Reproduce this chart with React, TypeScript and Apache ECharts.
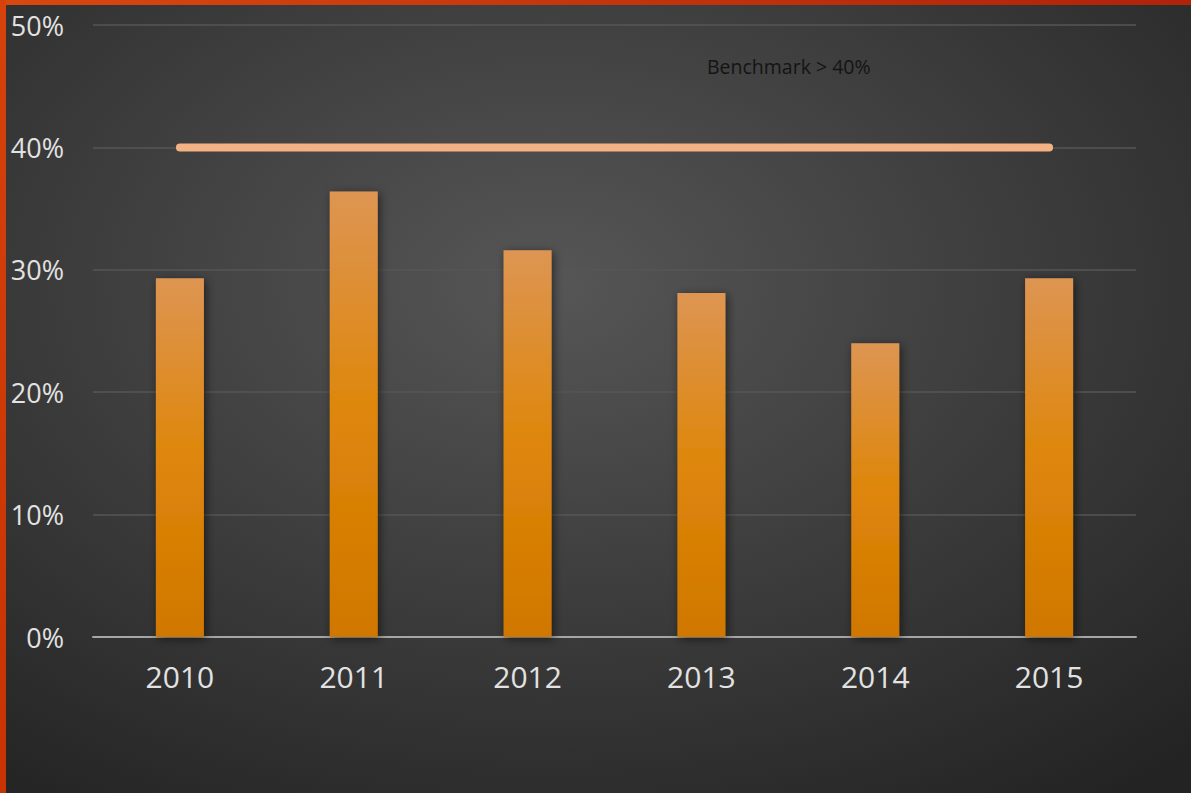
import React, { useEffect, useRef } from "react";
import * as echarts from "echarts";

const categories = ["2010", "2011", "2012", "2013", "2014", "2015"];
const values = [29.3, 36.4, 31.6, 28.1, 24.0, 29.3];
const benchmark = [40, 40, 40, 40, 40, 40];
const benchmarkLabel = "Benchmark > 40%";

export default function App() {
  const ref = useRef<HTMLDivElement>(null);
  useEffect(() => {
    document.body.style.margin = "0";
    const chart = echarts.init(ref.current!, null, { renderer: "svg" });
    chart.setOption({
      animation: false,
      backgroundColor: new echarts.graphic.RadialGradient(0.46, 0.36, 0.8, [
        { offset: 0, color: "#565656" },
        { offset: 1, color: "#232323" },
      ]),
      grid: { left: 93, right: 55, top: 25, bottom: 156, containLabel: false },
      xAxis: {
        type: "category",
        data: categories,
        axisLine: { lineStyle: { color: "#a6a6a6", width: 2 } },
        axisTick: { show: false },
        axisLabel: {
          color: "#e2e2e2",
          fontSize: 30,
          fontFamily: "Open Sans",
          margin: 24,
        },
      },
      yAxis: {
        type: "value",
        min: 0,
        max: 50,
        interval: 10,
        axisLine: { show: false },
        axisTick: { show: false },
        splitLine: { lineStyle: { color: "#565656", width: 1.5 } },
        axisLabel: {
          color: "#e2e2e2",
          fontSize: 27,
          fontFamily: "Open Sans",
          formatter: "{value}%",
          margin: 29,
        },
      },
      series: [
        {
          type: "bar",
          data: values,
          barWidth: 48,
          itemStyle: {
            color: new echarts.graphic.LinearGradient(0, 0, 0, 1, [
              { offset: 0, color: "#dd9552" },
              { offset: 0.5, color: "#de860a" },
              { offset: 1, color: "#d07700" },
            ]),
            shadowBlur: 10,
            shadowColor: "rgba(0,0,0,0.55)",
            shadowOffsetX: 2,
            shadowOffsetY: 2,
          },
        },
        {
          type: "line",
          data: benchmark,
          symbol: "none",
          z: 5,
          silent: true,
          lineStyle: {
            color: "#f4b183",
            width: 8,
            cap: "round",
          },
        },
      ],
      graphic: [
        {
          type: "rect",
          shape: { x: 0, y: 0, width: 1191, height: 5 },
          style: {
            fill: new echarts.graphic.LinearGradient(0, 0, 1, 0, [
              { offset: 0, color: "#d9480f" },
              { offset: 1, color: "#b0220a" },
            ]),
          },
          z: 10,
        },
        {
          type: "rect",
          shape: { x: 0, y: 0, width: 6, height: 793 },
          style: {
            fill: new echarts.graphic.LinearGradient(0, 0, 0, 1, [
              { offset: 0, color: "#d5420c" },
              { offset: 1, color: "#c83300" },
            ]),
          },
          z: 10,
        },
        {
          type: "text",
          left: 707,
          top: 56,
          style: {
            text: benchmarkLabel,
            fill: "#141414",
            font: "19.5px 'Open Sans'",
          },
          z: 10,
        },
      ],
    });
    return () => chart.dispose();
  }, []);
  return <div ref={ref} style={{ width: 1191, height: 793 }} />;
}
